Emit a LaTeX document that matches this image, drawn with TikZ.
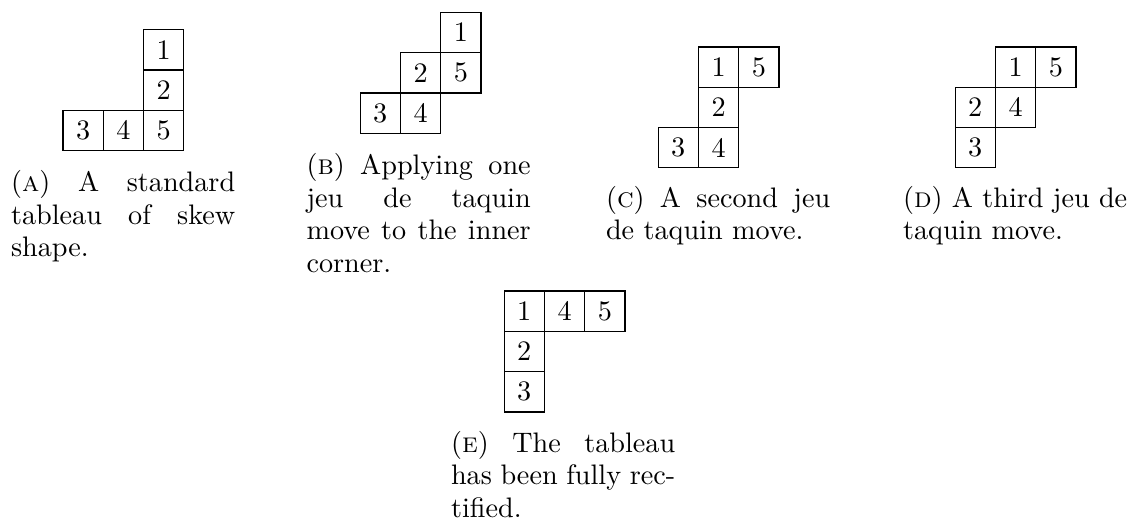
\documentclass[tikz,border=0pt]{standalone}
\begin{document}
\begin{tikzpicture}[x=0.3546pt,y=-0.3546pt,
  cell/.style={draw,line width=0.45pt,minimum size=14.29pt,inner sep=0pt,anchor=north west,font=\fontsize{10}{12}\selectfont},
  capt/.style={anchor=base west,inner sep=0pt,text width=79.5pt,align=justify,
    font=\fontsize{10}{11.5}\selectfont,
    execute at begin node={\tolerance=9999\relax\hyphenpenalty=10000\relax}}]
\useasboundingbox (0,0) rectangle (1129,523);
% (A)
\begin{scope}[shift={(62.3,29)}]
\foreach \c/\r/\t in {2/0/1,2/1/2,0/2/3,1/2/4,2/2/5}
  \node[cell] (A\t) at (\c*40.3,\r*40.3) {\t};
\end{scope}
\node[capt] (capA) at (10.5,191.7) {(\textsc{a}) A standard\linebreak tableau of skew\linebreak shape.};
% (B)
\begin{scope}[shift={(359.5,11.7)}]
\foreach \c/\r/\t in {2/0/1,1/1/2,2/1/5,0/2/3,1/2/4}
  \node[cell] (B\t) at (\c*40.3,\r*40.3) {\t};
\end{scope}
\node[capt] (capB) at (306,175) {(\textsc{b}) Applying one\linebreak jeu de taquin\linebreak move to the inner\linebreak corner.};
% (C)
\begin{scope}[shift={(657.5,46.3)}]
\foreach \c/\r/\t in {1/0/1,2/0/5,1/1/2,0/2/3,1/2/4}
  \node[cell] (C\t) at (\c*40.3,\r*40.3) {\t};
\end{scope}
\node[capt] (capC) at (605.5,207.3) {(\textsc{c}) A second jeu\linebreak de taquin move.};
% (D)
\begin{scope}[shift={(954.5,46.3)}]
\foreach \c/\r/\t in {1/0/1,2/0/5,0/1/2,1/1/4,0/2/3}
  \node[cell] (D\t) at (\c*40.3,\r*40.3) {\t};
\end{scope}
\node[capt] (capD) at (902.5,207.3) {(\textsc{d}) A third jeu de\linebreak taquin move.};
% (E)
\begin{scope}[shift={(503.5,290.5)}]
\foreach \c/\r/\t in {0/0/1,1/0/4,2/0/5,0/1/2,0/2/3}
  \node[cell] (E\t) at (\c*40.3,\r*40.3) {\t};
\end{scope}
\node[capt] (capE) at (450.5,452.3) {(\textsc{e}) The tableau\linebreak has been fully rec-\linebreak tified.};
\end{tikzpicture}
\end{document}
